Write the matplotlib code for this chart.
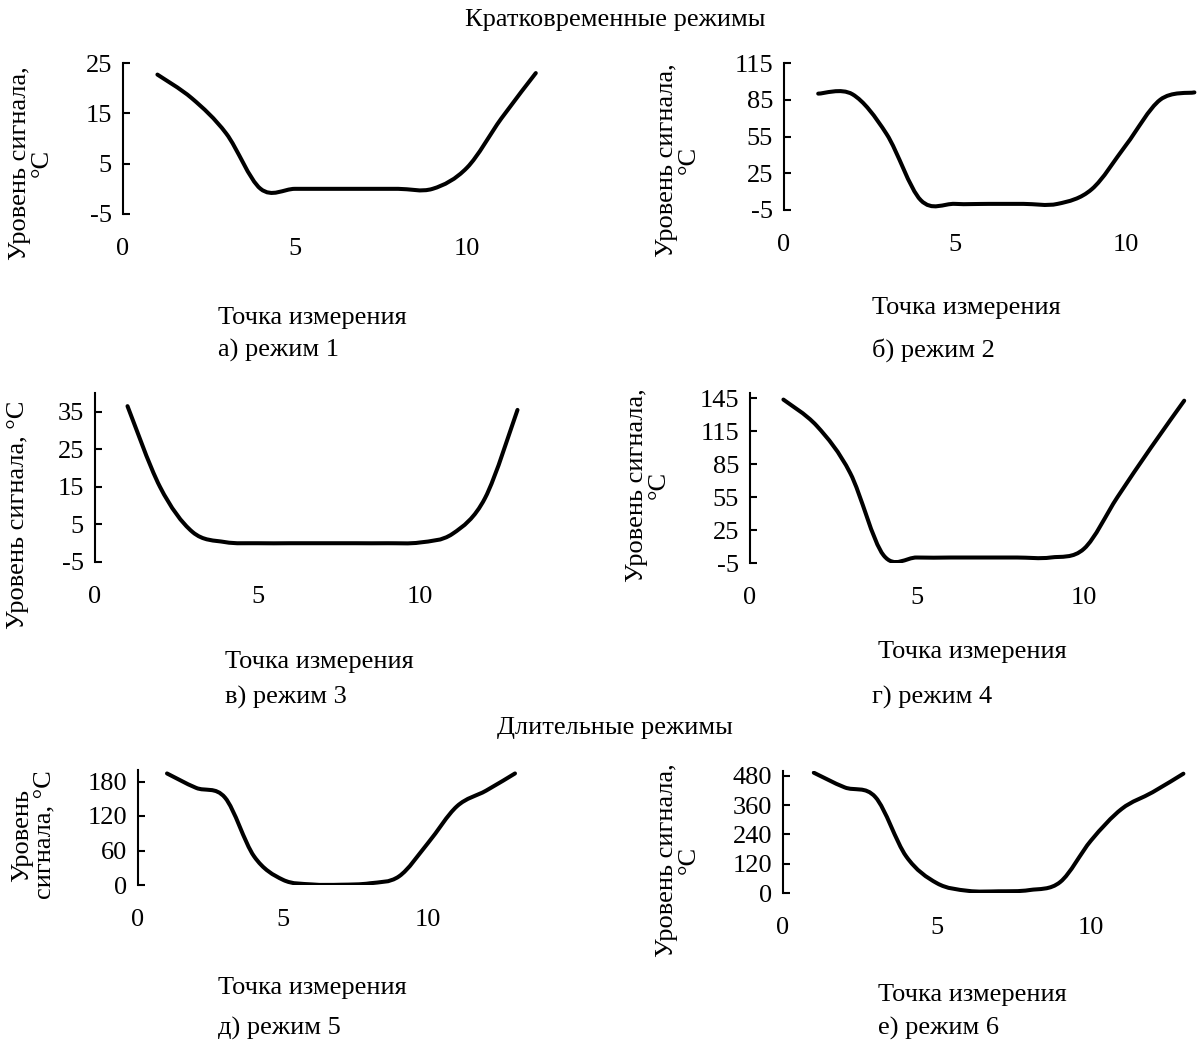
import numpy as np
import matplotlib.pyplot as plt
from matplotlib.path import Path
from matplotlib.patches import PathPatch

plt.rcParams['font.family'] = ['Liberation Serif', 'DejaVu Serif']
plt.rcParams['axes.unicode_minus'] = False
plt.rcParams['font.size'] = 19

W, H = 1200, 1048

# measurement points
pts12 = list(range(1, 13))
pts13 = list(range(1, 14))

# signal level, °C
mode1 = [22.7, 18.0, 11.0, 0.0, 0.0, 0.0, 0.0, 0.0, 0.0, 4.2, 14.0, 23.0]
mode2 = [90.0, 89.5, 57.0, 3.0, 0.0, 0.0, 0.0, 0.0, 12.0, 48.0, 85.0, 91.0]
mode3 = [36.5, 15.0, 3.0, 0.3, 0.0, 0.0, 0.0, 0.0, 0.0, 0.2, 2.5, 12.0, 35.5]
mode4 = [144.0, 120.0, 77.0, 2.0, 0.0, 0.0, 0.0, 0.0, 0.0, 8.0, 55.0, 100.0, 143.0]
mode5 = [194.0, 169.0, 152.0, 50.0, 9.0, 1.0, 0.5, 3.0, 15.0, 73.0, 137.0, 164.0, 194.0]
mode6 = [493.0, 433.0, 393.0, 150.0, 40.0, 9.0, 7.0, 12.0, 45.0, 215.0, 345.0, 413.0, 489.0]

yticks1 = [-5, 5, 15, 25]
yticks2 = [-5, 25, 55, 85, 115]
yticks3 = [-5, 5, 15, 25, 35]
yticks4 = [-5, 25, 55, 85, 115, 145]
yticks5 = [0, 60, 120, 180]
yticks6 = [0, 120, 240, 360, 480]
xticks = [0, 5, 10]


def smooth_path(x, y):
    # Excel-like smoothed line: cubic Bezier through the data points
    px = np.concatenate([[x[0]], x, [x[-1]]]).astype(float)
    py = np.concatenate([[y[0]], y, [y[-1]]]).astype(float)
    verts = [(px[1], py[1])]
    codes = [Path.MOVETO]
    for i in range(len(x) - 1):
        c1 = (px[i + 1] + (px[i + 2] - px[i]) / 6, py[i + 1] + (py[i + 2] - py[i]) / 6)
        c2 = (px[i + 2] - (px[i + 3] - px[i + 1]) / 6, py[i + 2] - (py[i + 3] - py[i + 1]) / 6)
        verts += [c1, c2, (px[i + 2], py[i + 2])]
        codes += [Path.CURVE4] * 3
    return Path(verts, codes)


def fx(px):
    return px / W


def fy(py):
    return 1 - py / H


fig = plt.figure(figsize=(W / 100, H / 100), dpi=100)


def panel(left, top, bottom, ppu, xmax, ylim, yticks, x, y):
    ax = fig.add_axes([fx(left), fy(bottom), ppu * xmax / W, (bottom - top) / H])
    ax.add_patch(PathPatch(smooth_path(x, y), fill=False, lw=2.9, color='black',
                           capstyle='round', joinstyle='round'))
    ax.set_xlim(0, xmax)
    ax.set_ylim(*ylim)
    ax.set_xticks(xticks)
    ax.set_yticks(yticks)
    for s in ['top', 'right', 'bottom']:
        ax.spines[s].set_visible(False)
    ax.spines['left'].set_linewidth(1.5)
    ax.tick_params(axis='x', length=0, pad=17)
    ax.tick_params(axis='y', direction='in', length=5, width=1.5, pad=8)
    ax.patch.set_alpha(0)
    return ax


panel(123, 63, 214, 34.4, 13.0, (-5, 25), yticks1, pts12, mode1)
panel(784, 63, 210, 34.2, 12.2, (-5, 115), yticks2, pts12, mode2)
panel(95, 393, 562, 32.5, 13.5, (-5, 40), yticks3, pts13, mode3)
panel(750, 393, 563, 33.4, 13.2, (-5, 150), yticks4, pts13, mode4)
panel(138, 770, 885, 29.0, 13.5, (0, 200), yticks5, pts13, mode5)
panel(783, 771, 893, 30.8, 13.2, (0, 500), yticks6, pts13, mode6)

# headings
fig.text(fx(615), fy(20), 'Кратковременные режимы', ha='center', va='center')
fig.text(fx(615), fy(728), 'Длительные режимы', ha='center', va='center')

# y labels
ylab = [
    (31, 163, 'Уровень сигнала,\n°C'),
    (678, 160, 'Уровень сигнала,\n°C'),
    (18, 515, 'Уровень сигнала, °C'),
    (648, 485, 'Уровень сигнала,\n°C'),
    (33, 835, 'Уровень\nсигнала, °C'),
    (678, 860, 'Уровень сигнала,\n°C'),
]
for x, y, t in ylab:
    fig.text(fx(x), fy(y), t, rotation=90, ha='center', va='center',
             multialignment='center', linespacing=1.0)

# x labels and captions
xlab = [
    (218, 318, 218, 350, 'а) режим 1'),
    (872, 308, 872, 350, 'б) режим 2'),
    (225, 662, 225, 697, 'в) режим 3'),
    (878, 652, 872, 697, 'г) режим 4'),
    (218, 988, 218, 1028, 'д) режим 5'),
    (878, 995, 878, 1028, 'е) режим 6'),
]
for x1, y1, x2, y2, cap in xlab:
    fig.text(fx(x1), fy(y1), 'Точка измерения', ha='left', va='center')
    fig.text(fx(x2), fy(y2), cap, ha='left', va='center')

fig.savefig('out.png', dpi=100)
